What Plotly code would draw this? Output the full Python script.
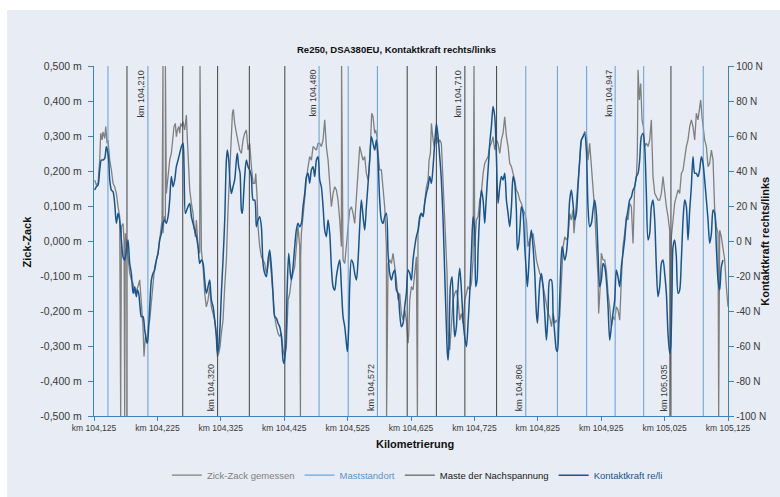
import plotly.graph_objects as go

# ---------------- data ----------------
# Zick-Zack gemessen (m) along the line (km)
ZZ_KM = [104.1261, 104.1287, 104.1314, 104.1340, 104.1356, 104.1377, 104.1392, 104.1419, 104.1435, 104.1456,
         104.1471, 104.1498, 104.1524, 104.1550, 104.1576, 104.1603, 104.1629, 104.1655, 104.1682, 104.1708,
         104.1724, 104.1745, 104.1771, 104.1787, 104.1813, 104.1839, 104.1866, 104.1892, 104.1918, 104.1945,
         104.1971, 104.1987, 104.2008, 104.2023, 104.2039, 104.2060, 104.2081, 104.2102, 104.2129, 104.2155,
         104.2181, 104.2207, 104.2234, 104.2260, 104.2286, 104.2302, 104.2323, 104.2339, 104.2355, 104.2376,
         104.2391, 104.2418, 104.2444, 104.2470, 104.2497, 104.2512, 104.2533, 104.2549, 104.2565, 104.2586,
         104.2602, 104.2618, 104.2639, 104.2654, 104.2681, 104.2707, 104.2723, 104.2744, 104.2760, 104.2786,
         104.2812, 104.2828, 104.2849, 104.2865, 104.2891, 104.2917, 104.2944, 104.2970, 104.2996, 104.3022,
         104.3049, 104.3075, 104.3101, 104.3128, 104.3154, 104.3180, 104.3196, 104.3217, 104.3238, 104.3259,
         104.3285, 104.3312, 104.3338, 104.3364, 104.3390, 104.3417, 104.3433, 104.3448, 104.3469, 104.3496,
         104.3522, 104.3548, 104.3575, 104.3601, 104.3627, 104.3653, 104.3680, 104.3706, 104.3732, 104.3759,
         104.3785, 104.3801, 104.3822, 104.3837, 104.3864, 104.3890, 104.3916, 104.3943, 104.3969, 104.3995,
         104.4021, 104.4048, 104.4074, 104.4100, 104.4127, 104.4153, 104.4179, 104.4206, 104.4232, 104.4258,
         104.4284, 104.4311, 104.4337, 104.4363, 104.4390, 104.4416, 104.4442, 104.4468, 104.4495, 104.4510,
         104.4521, 104.4547, 104.4574, 104.4600, 104.4626, 104.4652, 104.4679, 104.4705, 104.4731, 104.4758,
         104.4784, 104.4810, 104.4836, 104.4863, 104.4889, 104.4915, 104.4942, 104.4968, 104.4994, 104.5021,
         104.5047, 104.5073, 104.5099, 104.5126, 104.5152, 104.5178, 104.5205, 104.5231, 104.5257, 104.5283,
         104.5310, 104.5336, 104.5362, 104.5389, 104.5415, 104.5441, 104.5467, 104.5494, 104.5520, 104.5546,
         104.5573, 104.5588, 104.5609, 104.5630, 104.5651, 104.5678, 104.5693, 104.5714, 104.5735, 104.5756,
         104.5783, 104.5809, 104.5835, 104.5862, 104.5888, 104.5914, 104.5941, 104.5967, 104.5993, 104.6019,
         104.6046, 104.6072, 104.6098, 104.6125, 104.6151, 104.6177, 104.6204, 104.6214, 104.6230, 104.6256,
         104.6282, 104.6309, 104.6335, 104.6361, 104.6388, 104.6414, 104.6440, 104.6466, 104.6493, 104.6519,
         104.6535, 104.6556, 104.6572, 104.6593, 104.6614, 104.6635, 104.6661, 104.6677, 104.6703, 104.6729,
         104.6756, 104.6782, 104.6798, 104.6819, 104.6835, 104.6861, 104.6887, 104.6913, 104.6940, 104.6966,
         104.6992, 104.7019, 104.7045, 104.7071, 104.7097, 104.7124, 104.7150, 104.7176, 104.7203, 104.7229,
         104.7255, 104.7281, 104.7308, 104.7334, 104.7360, 104.7387, 104.7413, 104.7439, 104.7466, 104.7492,
         104.7518, 104.7544, 104.7571, 104.7597, 104.7623, 104.7650, 104.7676, 104.7702, 104.7728, 104.7755,
         104.7781, 104.7807, 104.7834, 104.7860, 104.7886, 104.7912, 104.7939, 104.7965, 104.7991, 104.8018,
         104.8044, 104.8070, 104.8096, 104.8123, 104.8149, 104.8175, 104.8202, 104.8228, 104.8254, 104.8280,
         104.8307, 104.8333, 104.8359, 104.8386, 104.8412, 104.8438, 104.8465, 104.8491, 104.8517, 104.8543,
         104.8570, 104.8596, 104.8622, 104.8649, 104.8675, 104.8700, 104.8727, 104.8753, 104.8779, 104.8805,
         104.8821, 104.8842, 104.8858, 104.8884, 104.8911, 104.8937, 104.8963, 104.8989, 104.9016, 104.9042,
         104.9068, 104.9095, 104.9121, 104.9147, 104.9174, 104.9200, 104.9210, 104.9231, 104.9252, 104.9279,
         104.9305, 104.9331, 104.9358, 104.9384, 104.9410, 104.9436, 104.9463, 104.9489, 104.9515, 104.9542,
         104.9568, 104.9594, 104.9620, 104.9647, 104.9673, 104.9699, 104.9726, 104.9752, 104.9778, 104.9805,
         104.9820, 104.9831, 104.9852, 104.9873, 104.9894, 104.9915, 104.9936, 104.9962, 104.9989, 105.0015,
         105.0041, 105.0067, 105.0094, 105.0120, 105.0146, 105.0173, 105.0199, 105.0225, 105.0251, 105.0278,
         105.0304, 105.0330, 105.0357, 105.0383, 105.0409, 105.0435, 105.0462, 105.0488, 105.0514, 105.0541,
         105.0567, 105.0593, 105.0619, 105.0646, 105.0672, 105.0698, 105.0725, 105.0751, 105.0777, 105.0803,
         105.0819, 105.0840, 105.0856, 105.0882, 105.0909, 105.0935, 105.0961, 105.0988, 105.1014, 105.1040,
         105.1066, 105.1093, 105.1119, 105.1145, 105.1172, 105.1198, 105.1224, 105.1250]
ZZ_M = [0.174, 0.160, 0.165, 0.231, 0.308, 0.289, 0.312, 0.293, 0.327, 0.279,
        0.289, 0.231, 0.203, 0.165, 0.155, 0.136, 0.098, 0.070, 0.041, 0.050,
        0.003, 0.022, -0.016, -0.054, -0.092, -0.111, -0.121, -0.150, -0.140, -0.130,
        -0.111, -0.150, -0.207, -0.245, -0.330, -0.273, -0.292, -0.245, -0.226, -0.169,
        -0.111, -0.073, -0.054, -0.035, 0.003, 0.031, 0.060, 0.022, 0.070, 0.060,
        0.136, 0.184, 0.231, 0.250, 0.289, 0.327, 0.336, 0.298, 0.317, 0.327,
        0.308, 0.336, 0.327, 0.341, 0.317, 0.360, 0.289, 0.203, 0.146, 0.108,
        0.079, 0.041, 0.012, 0.060, -0.016, -0.035, -0.026, -0.073, -0.150, -0.188,
        -0.169, -0.130, -0.188, -0.207, -0.226, -0.264, -0.330, -0.321, -0.302, -0.264,
        -0.226, -0.130, -0.054, 0.089, 0.212, 0.308, 0.365, 0.376, 0.336, 0.308,
        0.279, 0.260, 0.250, 0.289, 0.308, 0.317, 0.260, 0.279, 0.212, 0.165,
        0.165, 0.193, 0.127, 0.041, -0.016, -0.045, -0.054, -0.064, -0.092, -0.073,
        -0.035, -0.092, -0.150, -0.216, -0.245, -0.264, -0.273, -0.264, -0.311, -0.330,
        -0.302, -0.169, -0.150, -0.111, -0.092, -0.073, -0.016, 0.041, -0.016, -0.045,
        0.022, 0.070, 0.136, 0.174, 0.212, 0.241, 0.231, 0.270, 0.265, 0.260,
        0.279, 0.279, 0.270, 0.289, 0.346, 0.270, 0.231, 0.165, 0.098, 0.136,
        0.155, 0.146, 0.117, 0.060, -0.016, -0.054, -0.064, -0.016, 0.041, 0.089,
        0.098, 0.079, 0.050, 0.136, 0.212, 0.270, 0.250, 0.231, 0.241, 0.193,
        0.174, 0.203, 0.270, 0.365, 0.355, 0.308, 0.317, 0.298, 0.241, 0.203,
        0.203, 0.136, 0.098, -0.016, -0.064, -0.054, -0.064, -0.035, -0.073, -0.111,
        -0.169, -0.150, -0.207, -0.226, -0.197, -0.226, -0.292, -0.264, -0.169, -0.130,
        -0.140, -0.092, -0.045, 0.022, 0.060, 0.079, 0.070, 0.117, 0.155, 0.174,
        0.231, 0.250, 0.336, 0.298, 0.270, 0.289, 0.298, 0.279, 0.289, 0.279,
        0.155, 0.022, -0.007, -0.092, -0.264, -0.311, -0.245, -0.169, -0.150, -0.140,
        -0.169, -0.226, -0.207, -0.235, -0.169, -0.150, -0.130, -0.140, -0.121, -0.054,
        -0.016, 0.060, 0.070, 0.117, 0.136, 0.193, 0.222, 0.231, 0.241, 0.270,
        0.279, 0.298, 0.260, 0.289, 0.279, 0.250, 0.289, 0.308, 0.355, 0.298,
        0.270, 0.222, 0.212, 0.193, 0.174, 0.146, 0.136, 0.117, 0.108, 0.089,
        0.079, 0.060, -0.016, 0.003, 0.012, 0.022, -0.016, -0.054, -0.073, -0.092,
        -0.102, -0.130, -0.150, -0.188, -0.207, -0.216, -0.245, -0.207, -0.235, -0.226,
        -0.235, -0.216, -0.130, -0.016, 0.012, 0.003, 0.012, 0.079, 0.060, 0.089,
        0.022, 0.070, 0.117, 0.155, 0.222, 0.289, 0.298, 0.312, 0.308, 0.231,
        0.279, 0.212, 0.136, 0.089, -0.016, -0.102, -0.207, -0.140, -0.035, -0.054,
        -0.054, -0.083, -0.150, -0.188, -0.245, -0.216, -0.226, -0.188, -0.197, -0.226,
        -0.111, -0.016, 0.022, 0.070, 0.060, 0.108, 0.098, -0.007, 0.155, 0.184,
        0.250, 0.489, 0.403, 0.450, 0.346, 0.327, 0.270, 0.279, 0.270, 0.289,
        0.346, 0.184, 0.136, 0.127, 0.117, 0.117, 0.136, 0.184, 0.136, 0.098,
        0.070, 0.031, 0.012, 0.060, 0.108, 0.127, 0.146, 0.136, 0.193, 0.203,
        0.241, 0.270, 0.289, 0.327, 0.346, 0.327, 0.289, 0.365, 0.346, 0.374,
        0.403, 0.355, 0.327, 0.289, 0.270, 0.212, 0.222, 0.260, 0.231, 0.089,
        0.041, 0.022, 0.031, 0.012, -0.026, -0.054, -0.130, -0.188]

# single-sample dropouts of the zig-zag measurement (full-scale readings)
SPIKE_KM = [104.1671, 104.1734, 104.2338, 104.2376, 104.2922, 104.4506,
            104.5155, 104.5865, 104.6351, 104.7244, 105.0331, 105.1103]
SPIKE_M = [-0.5, -0.5, 0.5, 0.5, 0.5, -0.5, 0.5, -0.5, -0.5, 0.5, -0.5, -0.5]

# Kontaktkraft re/li (N)
KK_KM = [104.1261, 104.1287, 104.1314, 104.1340, 104.1366, 104.1392, 104.1419, 104.1445, 104.1461, 104.1482,
         104.1498, 104.1524, 104.1550, 104.1576, 104.1603, 104.1629, 104.1655, 104.1682, 104.1708, 104.1734,
         104.1761, 104.1787, 104.1813, 104.1839, 104.1866, 104.1892, 104.1918, 104.1934, 104.1955, 104.1976,
         104.1997, 104.2023, 104.2050, 104.2076, 104.2092, 104.2113, 104.2129, 104.2155, 104.2181, 104.2207,
         104.2234, 104.2260, 104.2286, 104.2313, 104.2339, 104.2365, 104.2391, 104.2418, 104.2444, 104.2470,
         104.2497, 104.2523, 104.2549, 104.2576, 104.2602, 104.2628, 104.2654, 104.2670, 104.2691, 104.2712,
         104.2733, 104.2760, 104.2786, 104.2812, 104.2838, 104.2865, 104.2891, 104.2917, 104.2944, 104.2970,
         104.2996, 104.3022, 104.3049, 104.3075, 104.3101, 104.3128, 104.3154, 104.3180, 104.3196, 104.3217,
         104.3238, 104.3259, 104.3285, 104.3312, 104.3338, 104.3354, 104.3375, 104.3396, 104.3417, 104.3443,
         104.3469, 104.3496, 104.3511, 104.3532, 104.3554, 104.3575, 104.3590, 104.3611, 104.3627, 104.3653,
         104.3680, 104.3706, 104.3732, 104.3759, 104.3785, 104.3811, 104.3837, 104.3864, 104.3890, 104.3916,
         104.3943, 104.3969, 104.3995, 104.4021, 104.4048, 104.4074, 104.4100, 104.4127, 104.4153, 104.4179,
         104.4206, 104.4232, 104.4248, 104.4274, 104.4295, 104.4321, 104.4347, 104.4363, 104.4390, 104.4416,
         104.4442, 104.4468, 104.4495, 104.4521, 104.4547, 104.4574, 104.4600, 104.4626, 104.4652, 104.4679,
         104.4705, 104.4731, 104.4758, 104.4784, 104.4810, 104.4836, 104.4863, 104.4889, 104.4915, 104.4942,
         104.4968, 104.4994, 104.5021, 104.5047, 104.5073, 104.5099, 104.5126, 104.5152, 104.5178, 104.5205,
         104.5231, 104.5247, 104.5268, 104.5283, 104.5310, 104.5336, 104.5362, 104.5389, 104.5415, 104.5441,
         104.5467, 104.5494, 104.5520, 104.5546, 104.5573, 104.5599, 104.5625, 104.5651, 104.5678, 104.5704,
         104.5730, 104.5756, 104.5783, 104.5809, 104.5835, 104.5862, 104.5888, 104.5914, 104.5941, 104.5967,
         104.5993, 104.6019, 104.6046, 104.6072, 104.6098, 104.6125, 104.6151, 104.6177, 104.6204, 104.6230,
         104.6256, 104.6282, 104.6309, 104.6335, 104.6361, 104.6388, 104.6414, 104.6440, 104.6466, 104.6493,
         104.6519, 104.6545, 104.6572, 104.6598, 104.6624, 104.6651, 104.6677, 104.6703, 104.6729, 104.6756,
         104.6782, 104.6808, 104.6824, 104.6835, 104.6850, 104.6871, 104.6898, 104.6924, 104.6940, 104.6966,
         104.6992, 104.7019, 104.7045, 104.7071, 104.7097, 104.7124, 104.7150, 104.7176, 104.7203, 104.7229,
         104.7255, 104.7271, 104.7292, 104.7308, 104.7334, 104.7360, 104.7387, 104.7413, 104.7429, 104.7455,
         104.7476, 104.7492, 104.7518, 104.7544, 104.7571, 104.7597, 104.7623, 104.7650, 104.7676, 104.7702,
         104.7728, 104.7755, 104.7781, 104.7807, 104.7834, 104.7860, 104.7886, 104.7912, 104.7928, 104.7949,
         104.7970, 104.7991, 104.8018, 104.8044, 104.8070, 104.8086, 104.8107, 104.8128, 104.8149, 104.8175,
         104.8202, 104.8228, 104.8244, 104.8265, 104.8286, 104.8307, 104.8333, 104.8359, 104.8386, 104.8412,
         104.8438, 104.8465, 104.8491, 104.8517, 104.8543, 104.8559, 104.8580, 104.8607, 104.8633, 104.8675,
         104.8700, 104.8727, 104.8753, 104.8779, 104.8805, 104.8832, 104.8858, 104.8884, 104.8911, 104.8937,
         104.8963, 104.8989, 104.9016, 104.9042, 104.9068, 104.9095, 104.9121, 104.9147, 104.9174, 104.9200,
         104.9226, 104.9252, 104.9279, 104.9305, 104.9331, 104.9358, 104.9384, 104.9410, 104.9436, 104.9463,
         104.9489, 104.9515, 104.9542, 104.9568, 104.9594, 104.9620, 104.9647, 104.9673, 104.9699, 104.9726,
         104.9752, 104.9778, 104.9805, 104.9831, 104.9857, 104.9883, 104.9910, 104.9936, 104.9962, 104.9989,
         105.0015, 105.0041, 105.0067, 105.0094, 105.0120, 105.0146, 105.0173, 105.0199, 105.0225, 105.0251,
         105.0278, 105.0304, 105.0330, 105.0346, 105.0367, 105.0383, 105.0409, 105.0435, 105.0462, 105.0488,
         105.0514, 105.0541, 105.0567, 105.0593, 105.0619, 105.0646, 105.0672, 105.0698, 105.0725, 105.0751,
         105.0777, 105.0803, 105.0830, 105.0856, 105.0882, 105.0909, 105.0935, 105.0961, 105.0988, 105.1014,
         105.1040, 105.1066, 105.1093, 105.1119, 105.1145, 105.1172]
KK_N = [29.1, 31.0, 32.0, 40.6, 46.3, 46.3, 47.2, 53.9, 52.0, 46.3,
        34.9, 29.1, 28.2, 21.5, 10.1, 15.8, 12.0, 0.6, -9.0, -10.9,
        -5.1, 0.6, -12.8, -18.5, -29.9, -26.1, -31.8, -28.0, -29.9, -37.5,
        -43.2, -43.2, -50.9, -56.6, -58.5, -49.0, -37.5, -22.3, -18.5, -16.6,
        -10.9, -7.0, 0.6, 4.4, 10.1, 12.0, 10.1, 13.9, 23.4, 36.8,
        31.0, 34.9, 42.5, 46.3, 50.1, 53.9, 55.8, 42.5, 15.8, 17.7,
        19.6, 21.5, 13.9, 10.1, 6.3, 2.5, -3.2, -12.8, -10.9, -12.8,
        -22.3, -29.9, -26.1, -22.3, -33.7, -37.5, -45.1, -54.7, -64.2, -60.4,
        -49.0, -29.9, -10.9, 12.0, 46.3, 52.0, 46.3, 33.0, 27.2, 31.0,
        34.9, 46.3, 50.1, 42.5, 38.7, 17.7, 15.8, 27.2, 36.8, 46.3,
        42.5, 40.6, 36.8, 23.4, 23.4, 8.2, 12.0, 13.9, 8.2, -12.8,
        -18.5, -20.4, -10.9, -5.1, -14.7, -29.9, -43.2, -44.2, -47.0, -49.0,
        -54.7, -68.0, -69.9, -60.4, -29.9, -7.0, -18.5, -22.3, -14.7, -3.2,
        6.3, 10.1, 8.2, 10.1, 19.6, 27.2, 36.8, 38.7, 33.0, 40.6,
        42.5, 36.8, 46.3, 48.2, 34.9, 31.0, 19.6, 6.3, 2.5, 12.0,
        4.4, -14.7, -26.1, -28.0, -20.4, -14.7, -10.9, -26.1, -43.2, -49.0,
        -58.5, -63.2, -49.0, -26.1, -10.9, -12.8, -18.5, -22.3, -10.9, 8.2,
        23.4, 13.9, 6.3, 19.6, 33.0, 46.3, 59.6, 55.8, 52.0, 57.7,
        46.3, 23.4, 12.0, 10.1, 13.9, 15.8, -7.0, -18.5, -22.3, -18.5,
        -16.6, -28.0, -29.9, -41.3, -49.0, -47.0, -37.5, -29.9, -16.6, -18.5,
        -22.3, -10.9, -3.2, 2.5, 6.3, 13.9, 15.8, 13.9, 21.5, 27.2,
        31.0, 36.8, 33.0, 42.5, 55.8, 67.2, 59.6, 48.2, 34.9, 12.0,
        -18.5, -49.0, -64.2, -68.0, -58.5, -26.1, -20.4, -45.1, -54.7, -49.0,
        -26.1, -15.6, -28.0, -45.1, -54.7, -60.4, -47.0, -29.9, -7.0, 13.9,
        6.3, -26.1, -22.3, -5.1, 15.8, 29.1, 23.4, 10.1, 19.6, 34.9,
        46.3, 55.8, 65.3, 76.8, 71.0, 48.2, 21.5, 31.0, 36.8, 34.9,
        38.7, 23.4, 15.8, 8.2, 19.6, 36.8, 33.0, 17.7, -5.1, -1.3,
        8.2, 19.6, 15.8, -3.2, -18.5, -26.1, -14.7, 0.6, 6.3, -3.2,
        -18.5, -41.3, -47.0, -33.7, -22.3, -18.5, -26.1, -41.3, -56.6, -41.3,
        -22.3, -22.3, -41.3, -52.8, -62.3, -63.2, -49.0, -20.4, -3.2, -10.9,
        -7.0, 4.4, 23.4, 29.1, 21.5, 12.0, 15.8, 31.0, 46.3, 57.7,
        59.6, 61.5, 52.0, 19.6, 8.2, 10.1, 17.7, 23.4, 15.8, -7.0,
        -26.1, -22.3, -12.8, -14.7, -22.3, -37.5, -56.6, -49.0, -41.3, -33.7,
        -16.6, -20.4, -26.1, -14.7, -7.0, 0.6, 12.0, 17.7, 23.4, 25.1,
        29.1, 31.0, 36.8, 38.7, 46.3, 59.6, 61.5, 53.9, 27.2, 0.6,
        4.4, 19.6, 23.4, 12.0, -14.7, -31.8, -26.1, -12.8, -10.9, -18.5,
        -29.9, -52.8, -64.2, -60.4, -29.9, -3.2, 0.6, -9.0, -29.9, -28.0,
        -10.9, 12.0, 23.4, 19.6, 0.6, 17.7, 31.0, 48.2, 38.7, 38.7,
        36.8, 40.6, 48.2, 44.4, 34.9, 23.4, 12.0, -1.3, 4.4, 17.7,
        15.8, -3.2, -22.3, -28.0, -14.7, -10.9]

# mast positions (km)
MAST_KM = [104.147, 104.210, 104.480, 104.526, 104.572, 104.806, 104.856,
           104.902, 104.947, 104.992, 105.086]
TENSION_KM = [104.177, 104.265, 104.320, 104.370, 104.426, 104.619, 104.665,
              104.710, 104.760, 105.035]

# marked kilometre positions and where their labels sit
LABEL_KM = [104.210, 104.320, 104.480, 104.572, 104.710, 104.806, 104.947, 105.035]
LABEL_SIDE = ["top", "bottom", "top", "bottom", "top", "bottom", "top", "bottom"]

Y_TICKS_M = [-0.5, -0.4, -0.3, -0.2, -0.1, 0.0, 0.1, 0.2, 0.3, 0.4, 0.5]
Y_TICKS_N = [-100, -80, -60, -40, -20, 0, 20, 40, 60, 80, 100]

# ---------------- styling ----------------
BG = "#E8ECF4"
AXIS_BLUE = "#3C82C0"
GREY = "#808080"
MAST_BLUE = "#6FA5D8"
TENSION_DARK = "#404040"
FORCE_BLUE = "#17558F"
TXT = "#3a3a3a"
FONT = "Liberation Sans, Arial, Helvetica, sans-serif"

Y_MIN, Y_MAX = -0.5, 0.5


def km_label(v):
    return "km " + f"{v:.3f}".replace(".", ",")


# merge dropouts into the measured zig-zag series
zz = sorted(list(zip(ZZ_KM, ZZ_M)) + list(zip(SPIKE_KM, SPIKE_M)), key=lambda p: p[0])
zz_x = [p[0] for p in zz]
zz_y = [p[1] for p in zz]


def vlines(positions):
    xs, ys = [], []
    for k in positions:
        xs += [k, k, None]
        ys += [Y_MIN, Y_MAX, None]
    return xs, ys


mx, my = vlines(MAST_KM)
tx, ty = vlines(TENSION_KM)

fig = go.Figure()
fig.add_trace(go.Scatter(
    x=zz_x, y=zz_y, mode="lines", yaxis="y",
    line=dict(color=GREY, width=1.3),
    name=f'<span style="color:{GREY}">Zick-Zack gemessen</span>'))
fig.add_trace(go.Scatter(
    x=mx, y=my, mode="lines", yaxis="y",
    line=dict(color=MAST_BLUE, width=1.1),
    name='<span style="color:#5C93CC">Maststandort</span>'))
fig.add_trace(go.Scatter(
    x=tx, y=ty, mode="lines", yaxis="y",
    line=dict(color=TENSION_DARK, width=1.0),
    name='<span style="color:#202020">Maste der Nachspannung</span>'))
fig.add_trace(go.Scatter(
    x=KK_KM, y=KK_N, mode="lines", yaxis="y2",
    line=dict(color=FORCE_BLUE, width=1.5, shape="spline", smoothing=0.8),
    name=f'<span style="color:{FORCE_BLUE}">Kontaktkraft re/li</span>'))

annotations = []
for k, side in zip(LABEL_KM, LABEL_SIDE):
    top = side == "top"
    annotations.append(dict(
        x=k, xref="x", y=1 if top else 0, yref="paper",
        text=km_label(k), textangle=-90, showarrow=False,
        xanchor="center", yanchor="top" if top else "bottom",
        xshift=-7, yshift=-2 if top else 3,
        font=dict(family=FONT, size=9, color=TXT)))

# chart title and axis titles
annotations += [
    dict(text="<b>Re250, DSA380EU, Kontaktkraft rechts/links</b>", x=0.4775, y=1.046,
         xref="paper", yref="paper", showarrow=False, xanchor="center", yanchor="middle",
         font=dict(family=FONT, size=9.5, color="#111111")),
    dict(text="<b>Zick-Zack</b>", x=-0.105, y=0.5, xref="paper", yref="paper",
         showarrow=False, textangle=-90, xanchor="center", yanchor="middle",
         font=dict(family=FONT, size=11, color="#111111")),
    dict(text="<b>Kontaktkraft rechts/links</b>", x=1.058, y=0.5, xref="paper", yref="paper",
         showarrow=False, textangle=-90, xanchor="center", yanchor="middle",
         font=dict(family=FONT, size=11, color="#111111")),
    dict(text="<b>Kilometrierung</b>", x=0.507, y=-0.079, xref="paper", yref="paper",
         showarrow=False, xanchor="center", yanchor="middle",
         font=dict(family=FONT, size=11, color="#111111")),
]

fig.update_layout(
    width=780, height=497,
    margin=dict(l=94, r=52, t=66, b=81, pad=0, autoexpand=False),
    paper_bgcolor="white",
    plot_bgcolor="rgba(0,0,0,0)",
    separators=", ",
    showlegend=True,
    legend=dict(orientation="h", xref="container", yref="container",
                x=0.214, xanchor="left", y=0.044, yanchor="middle",
                bgcolor="rgba(0,0,0,0)", font=dict(family=FONT, size=9.5, color=TXT),
                itemwidth=30, traceorder="normal"),
    annotations=annotations,
    shapes=[dict(type="rect", xref="paper", yref="paper",
                 x0=(7 - 94) / 634, x1=(780 - 94) / 634,
                 y0=(416 - 497) / 350, y1=(416 - 10) / 350,
                 fillcolor=BG, line=dict(width=0), layer="below")],
    xaxis=dict(
        range=[104.125, 105.125], tick0=104.125, dtick=0.1, tickformat=".3f",
        tickprefix="km ", showgrid=False, zeroline=False,
        showline=True, linecolor=AXIS_BLUE, linewidth=1.3,
        ticks="outside", ticklen=4, tickcolor=AXIS_BLUE, tickwidth=1.3,
        ticklabelstandoff=0,
        tickfont=dict(family=FONT, size=8.5, color=TXT)),
    yaxis=dict(
        range=[Y_MIN, Y_MAX], tickvals=Y_TICKS_M,
        ticktext=[f"{v:.3f}".replace(".", ",") + " m" for v in Y_TICKS_M],
        showgrid=False, zeroline=False,
        showline=True, linecolor=AXIS_BLUE, linewidth=1.3,
        ticks="outside", ticklen=5, tickcolor=AXIS_BLUE, tickwidth=1.3,
        ticklabelstandoff=4,
        tickfont=dict(family=FONT, size=10.5, color=TXT)),
    yaxis2=dict(
        range=[-100, 100], tickvals=Y_TICKS_N,
        ticktext=[f"{v} N" for v in Y_TICKS_N],
        overlaying="y", side="right", anchor="x",
        showgrid=False, zeroline=False,
        showline=True, linecolor=AXIS_BLUE, linewidth=1.3,
        ticks="outside", ticklen=5, tickcolor=AXIS_BLUE, tickwidth=1.3,
        tickfont=dict(family=FONT, size=10, color=TXT)),
)

fig.write_html("out.html")
